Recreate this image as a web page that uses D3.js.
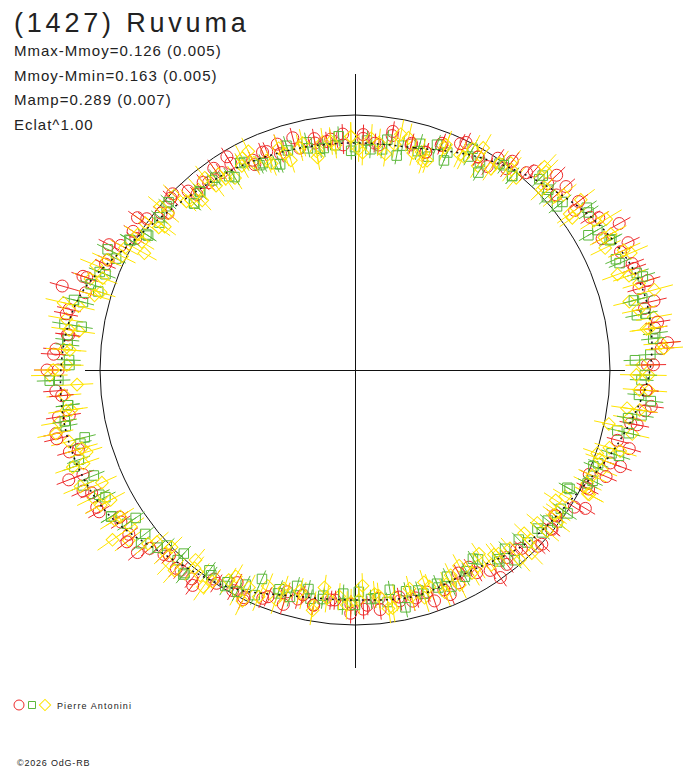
<!DOCTYPE html>
<html>
<head>
<meta charset="utf-8">
<script src="https://cdn.jsdelivr.net/npm/d3@7"></script>
<style>
  body { margin: 0; background: #fff; }
  text { font-family: "Liberation Sans", Arial, sans-serif; fill: #222; }
</style>
</head>
<body>
<svg id="chart" width="688" height="768"></svg>
<script>
// phase in degrees (0 = top, clockwise), magnitude relative to the mean
var fitPhase = [0, 15, 30, 45, 60, 75, 90, 105, 120, 135, 150, 165,
                180, 195, 210, 225, 240, 255, 270, 285, 300, 315, 330, 345]
var fitMag = [0.126, 0.112, 0.039, -0.038, -0.121, -0.173, -0.158, -0.078, 0.009, 0.048, 0.103, 0.093,
              0.112, 0.093, 0.017, -0.038, -0.125, -0.158, -0.155, -0.121, -0.008, 0.061, 0.093, 0.117]

// first night
var redPhase = [2, 6, 9, 14, 18, 21, 26, 30, 34, 37, 42, 46, 49, 54, 58, 61, 66, 70, 74, 77,
                82, 86, 89, 94, 98, 101, 106, 110, 114, 117, 122, 126, 129, 134, 138, 141, 146, 150, 154, 157,
                162, 166, 169, 174, 178, 181, 186, 190, 194, 197, 202, 206, 209, 214, 218, 221, 226, 230, 234, 237,
                242, 246, 249, 254, 258, 261, 266, 270, 274, 277, 282, 286, 289, 294, 298, 301, 306, 310, 314, 317,
                322, 326, 329, 334, 338, 341, 346, 350, 354, 357]
var redMag = [0.104, 0.130, 0.078, 0.103, 0.117, 0.053, 0.008, 0.039, -0.002, 0.013,
              -0.053, -0.054, -0.100, -0.068, -0.130, -0.184, -0.142, -0.166, -0.160, -0.201,
              -0.186, -0.202, -0.149, -0.147, -0.151, -0.105, -0.122, -0.069, -0.006, -0.018,
              -0.016, 0.035, 0.012, 0.005, 0.059, 0.060, 0.058, 0.123, 0.080, 0.048,
              0.095, 0.074, 0.088, 0.114, 0.069, 0.091, 0.106, 0.071, 0.084, 0.103,
              0.038, -0.003, 0.012, 0.012, -0.042, -0.043, -0.044, -0.117, -0.100, -0.098,
              -0.149, -0.168, -0.145, -0.166, -0.197, -0.137, -0.176, -0.165, -0.176, -0.139,
              -0.148, -0.103, -0.131, -0.063, -0.043, -0.003, -0.010, 0.048, 0.006, 0.045,
              0.076, 0.074, 0.061, 0.119, 0.086, 0.071, 0.118, 0.110, 0.102, 0.134]

var greenPhase = [0, 3, 7, 12, 16, 19, 23, 28, 31, 35, 39, 44, 47, 51, 55, 60, 63, 67, 71, 76,
                  79, 83, 87, 92, 95, 99, 103, 108, 111, 115, 119, 124, 127, 131, 135, 140, 143, 147, 151, 156,
                  159, 163, 167, 172, 175, 179, 183, 188, 191, 195, 199, 204, 207, 211, 215, 220, 223, 227, 231, 236,
                  239, 243, 247, 252, 255, 259, 263, 268, 271, 275, 279, 284, 287, 291, 295, 300, 303, 307, 311, 316,
                  319, 323, 327, 332, 335, 339, 343, 348, 351, 355]
var greenMag = [0.146, 0.113, 0.149, 0.115, 0.087, 0.133, 0.083, 0.019, 0.054, 0.013,
                0.023, -0.043, -0.039, -0.021, -0.113, -0.101, -0.131, -0.115, -0.169, -0.162,
                -0.129, -0.185, -0.161, -0.127, -0.121, -0.140, -0.059, -0.061, -0.023, -0.030,
                0.053, 0.029, 0.007, 0.058, 0.048, 0.096, 0.067, 0.132, 0.112, 0.079,
                0.117, 0.094, 0.126, 0.092, 0.116, 0.151, 0.088, 0.122, 0.098, 0.143,
                0.083, 0.037, 0.062, 0.013, 0.019, -0.050, -0.021, -0.010, -0.083, -0.082,
                -0.119, -0.102, -0.160, -0.141, -0.118, -0.157, -0.136, -0.165, -0.123, -0.134,
                -0.155, -0.103, -0.056, -0.076, -0.036, -0.018, 0.036, 0.044, 0.023, 0.103,
                0.080, 0.078, 0.107, 0.086, 0.131, 0.157, 0.114, 0.099, 0.141, 0.133]

var yellowPhase = [1, 4, 8, 10, 13, 17, 19, 22, 26, 28, 31, 35, 37, 40, 44, 46, 49, 53, 55, 58,
                   62, 64, 67, 71, 73, 76, 80, 82, 85, 89, 91, 94, 98, 100, 103, 107, 109, 112, 116, 118,
                   121, 125, 127, 130, 134, 136, 139, 143, 145, 148, 152, 154, 157, 161, 163, 166, 170, 172, 175, 179,
                   181, 184, 188, 190, 193, 197, 199, 202, 206, 208, 211, 215, 217, 220, 224, 226, 229, 233, 235, 238,
                   242, 244, 247, 251, 253, 256, 260, 262, 265, 269, 271, 274, 278, 280, 283, 287, 289, 292, 296, 298,
                   301, 305, 307, 310, 314, 316, 319, 323, 325, 328, 332, 334, 337, 341, 343, 346, 350, 352, 355, 359]
var yellowMag = [0.155, 0.102, 0.169, 0.117, 0.074, 0.122, 0.153, 0.068, 0.068, 0.019,
                 0.074, 0.013, -0.017, 0.018, -0.083, -0.034, -0.040, -0.112, -0.043, -0.110,
                 -0.138, -0.095, -0.175, -0.139, -0.166, -0.112, -0.188, -0.156, -0.203, -0.129,
                 -0.153, -0.157, -0.081, -0.095, -0.119, -0.046, -0.005, -0.047, -0.014, -0.043,
                 0.042, 0.032, 0.007, 0.075, 0.045, 0.002, 0.083, 0.107, 0.075, 0.106,
                 0.152, 0.070, 0.098, 0.116, 0.074, 0.134, 0.109, 0.062, 0.136, 0.111,
                 0.101, 0.127, 0.162, 0.071, 0.107, 0.083, 0.053, 0.098, 0.057, 0.017,
                 0.043, -0.041, -0.009, 0.030, -0.054, -0.034, -0.031, -0.114, -0.076, -0.113,
                 -0.089, -0.144, -0.170, -0.129, -0.104, -0.158, -0.177, -0.127, -0.146, -0.195,
                 -0.133, -0.146, -0.097, -0.152, -0.116, -0.046, -0.101, -0.098, -0.018, -0.023,
                 0.027, -0.005, 0.074, 0.048, 0.016, 0.083, 0.070, 0.108, 0.072, 0.129,
                 0.066, 0.109, 0.124, 0.091, 0.164, 0.118, 0.150, 0.111, 0.133, 0.096]

// second night
var redPhase2 = [2, 5, 9, 14, 18, 21, 25, 30, 33, 37, 41, 46, 49, 53, 57, 62, 65, 69, 73, 78,
                 81, 85, 89, 94, 97, 101, 105, 110, 113, 117, 121, 126, 129, 133, 137, 142, 145, 149, 153, 158,
                 161, 165, 169, 174, 177, 181, 185, 190, 193, 197, 201, 206, 209, 213, 217, 222, 225, 229, 233, 238,
                 241, 245, 249, 254, 257, 261, 265, 270, 273, 277, 281, 286, 289, 293, 297, 302, 305, 309, 313, 318,
                 321, 325, 329, 334, 337, 341, 345, 350, 353, 357]
var redMag2 = [0.086, 0.123, 0.059, 0.095, 0.117, 0.063, 0.023, 0.039, 0.054, -0.027,
               -0.027, -0.103, -0.049, -0.101, -0.103, -0.101, -0.181, -0.165, -0.199, -0.162,
               -0.199, -0.225, -0.171, -0.147, -0.171, -0.130, -0.069, -0.111, -0.073, -0.030,
               -0.057, 0.029, 0.007, -0.002, 0.048, 0.036, 0.007, 0.082, 0.122, 0.079,
               0.047, 0.084, 0.106, 0.062, 0.086, 0.051, 0.108, 0.072, 0.108, 0.043,
               0.053, 0.007, 0.052, 0.003, -0.061, -0.050, -0.031, -0.070, -0.123, -0.092,
               -0.149, -0.142, -0.200, -0.131, -0.198, -0.177, -0.156, -0.205, -0.183, -0.134,
               -0.155, -0.193, -0.116, -0.066, -0.086, -0.028, -0.044, 0.024, 0.013, 0.083,
               0.060, 0.038, 0.027, 0.096, 0.081, 0.117, 0.064, 0.089, 0.111, 0.083]

var greenPhase2 = [4, 8, 11, 16, 20, 23, 28, 32, 36, 39, 44, 48, 51, 56, 60, 63, 68, 72, 76, 79,
                   84, 88, 91, 96, 100, 103, 108, 112, 116, 119, 124, 128, 131, 136, 140, 143, 148, 152, 156, 159,
                   164, 168, 171, 176, 180, 183, 188, 192, 196, 199, 204, 208, 211, 216, 220, 223, 228, 232, 236, 239,
                   244, 248, 251, 256, 260, 263, 268, 272, 276, 279, 284, 288, 291, 296, 300, 303, 308, 312, 316, 319,
                   324, 328, 331, 336, 340, 343, 348, 352, 356, 359]
var greenMag2 = [0.154, 0.100, 0.168, 0.123, 0.067, 0.123, 0.058, 0.099, 0.008, 0.023,
                 -0.063, -0.014, -0.050, -0.108, -0.060, -0.124, -0.122, -0.186, -0.130, -0.161,
                 -0.176, -0.102, -0.139, -0.167, -0.091, -0.105, -0.092, -0.009, -0.016, 0.042,
                 -0.006, 0.045, 0.032, 0.085, 0.029, 0.080, 0.148, 0.093, 0.130, 0.098,
                 0.115, 0.054, 0.148, 0.114, 0.089, 0.141, 0.106, 0.141, 0.084, 0.103,
                 0.118, 0.017, 0.032, 0.032, -0.042, 0.017, -0.044, -0.047, -0.040, -0.118,
                 -0.119, -0.108, -0.165, -0.096, -0.157, -0.137, -0.196, -0.125, -0.136, -0.089,
                 -0.138, -0.093, -0.051, -0.083, -0.023, 0.027, 0.030, 0.018, 0.106, 0.085,
                 0.076, 0.124, 0.081, 0.129, 0.166, 0.091, 0.128, 0.140, 0.092, 0.164]

var yellowPhase2 = [359, 2, 6, 11, 15, 18, 22, 27, 30, 34, 38, 43, 46, 50, 54, 59, 62, 66, 70, 75,
                    78, 82, 86, 91, 94, 98, 102, 107, 110, 114, 118, 123, 126, 130, 134, 139, 142, 146, 150, 155,
                    158, 162, 166, 171, 174, 178, 182, 187, 190, 194, 198, 203, 206, 210, 214, 219, 222, 226, 230, 235,
                    238, 242, 246, 251, 254, 258, 262, 267, 270, 274, 278, 283, 286, 290, 294, 299, 302, 306, 310, 315,
                    318, 322, 326, 331, 334, 338, 342, 347, 350, 354]
var yellowMag2 = [0.096, 0.173, 0.119, 0.065, 0.137, 0.163, 0.053, 0.069, -0.006, 0.053,
                  0.003, -0.093, -0.019, -0.071, -0.043, -0.151, -0.111, -0.155, -0.099, -0.212,
                  -0.139, -0.165, -0.211, -0.107, -0.121, -0.130, -0.019, -0.091, -0.023, -0.020,
                  -0.037, 0.069, 0.037, 0.018, 0.088, 0.016, 0.097, 0.152, 0.092, 0.129,
                  0.067, 0.144, 0.096, 0.062, 0.126, 0.181, 0.088, 0.112, 0.048, 0.123,
                  0.113, 0.037, -0.008, 0.073, -0.001, 0.000, -0.061, 0.000, -0.063, -0.162,
                  -0.089, -0.132, -0.090, -0.171, -0.118, -0.197, -0.146, -0.095, -0.183, -0.124,
                  -0.135, -0.173, -0.066, -0.056, -0.066, 0.062, -0.004, 0.054, 0.003, 0.073,
                  0.120, 0.048, 0.107, 0.096, 0.051, 0.147, 0.124, 0.099, 0.181, 0.113]

var infoLines = ["Mmax-Mmoy=0.126 (0.005)", "Mmoy-Mmin=0.163 (0.005)", "Mamp=0.289 (0.007)", "Eclat^1.00"]

var red = "#ee2b2b", green = "#5cb83c", yellow = "#ffe400"
var layers = [
    { phase: redPhase, mag: redMag, err: 0.045, color: red, shape: "circle" },
    { phase: greenPhase, mag: greenMag, err: 0.045, color: green, shape: "square" },
    { phase: yellowPhase, mag: yellowMag, err: 0.065, color: yellow, shape: "diamond" },
    { phase: redPhase2, mag: redMag2, err: 0.045, color: red, shape: "circle" },
    { phase: greenPhase2, mag: greenMag2, err: 0.045, color: green, shape: "square" },
    { phase: yellowPhase2, mag: yellowMag2, err: 0.065, color: yellow, shape: "diamond" }
]

var svg = d3.select("#chart")
var cx = 355, cy = 370, R0 = 255

var angle = d3.scaleLinear().domain([0, 360]).range([0, 2 * Math.PI])
var radius = d3.scaleLinear().domain([0, 1]).range([0, R0])
function flux(m) { return Math.pow(10, -0.4 * m) }
function px(p, m) { return cx + radius(flux(m)) * Math.sin(angle(p)) }
function py(p, m) { return cy - radius(flux(m)) * Math.cos(angle(p)) }

// reference circle and axes
svg.append("circle")
    .attr("cx", cx).attr("cy", cy).attr("r", radius(1))
    .attr("fill", "none").attr("stroke", "#111").attr("stroke-width", 1)
svg.append("line").attr("x1", 85).attr("x2", 625).attr("y1", cy + 0.5).attr("y2", cy + 0.5)
    .attr("stroke", "#111").attr("stroke-width", 1)
svg.append("line").attr("x1", cx + 0.5).attr("x2", cx + 0.5).attr("y1", 74).attr("y2", 668)
    .attr("stroke", "#111").attr("stroke-width", 1)

var symbolFor = {
    circle: d3.symbol().type(d3.symbolCircle).size(Math.PI * 6 * 6)(),
    square: d3.symbol().type(d3.symbolSquare).size(9.5 * 9.5)(),
    diamond: d3.symbol().type(d3.symbolSquare).size(9 * 9)()
}

layers.forEach(function(s) {
    var data = s.phase.map(function(p, i) { return { p: p, m: s.mag[i] } })
    var g = svg.append("g")

    g.selectAll("line")
        .data(data)
        .enter()
        .append("line")
        .attr("x1", function(d) { return px(d.p, d.m - s.err) })
        .attr("y1", function(d) { return py(d.p, d.m - s.err) })
        .attr("x2", function(d) { return px(d.p, d.m + s.err) })
        .attr("y2", function(d) { return py(d.p, d.m + s.err) })
        .attr("stroke", s.color)
        .attr("stroke-width", 1)

    g.selectAll("path")
        .data(data)
        .enter()
        .append("path")
        .attr("d", symbolFor[s.shape])
        .attr("transform", function(d) {
            return "translate(" + px(d.p, d.m) + "," + py(d.p, d.m) + ")" +
                (s.shape === "diamond" ? " rotate(45)" : "")
        })
        .attr("fill", "none")
        .attr("stroke", s.color)
        .attr("stroke-width", 1)
})

// mean fitted curve
var fitData = fitPhase.map(function(p, i) { return { p: p, m: fitMag[i] } })
var fitLine = d3.lineRadial()
    .angle(function(d) { return angle(d.p) })
    .radius(function(d) { return radius(flux(d.m)) })
    .curve(d3.curveCardinalClosed)
svg.append("path")
    .datum(fitData)
    .attr("transform", "translate(" + cx + "," + cy + ")")
    .attr("d", fitLine)
    .attr("fill", "none")
    .attr("stroke", "#111")
    .attr("stroke-width", 1.5)
    .attr("stroke-dasharray", "2,4")

// texts
svg.append("text")
    .attr("x", 14).attr("y", 32)
    .style("font-size", "27px").style("letter-spacing", "3.8px")
    .text("(1427) Ruvuma")

svg.selectAll(".info")
    .data(infoLines)
    .enter()
    .append("text")
    .attr("class", "info")
    .attr("x", 14)
    .attr("y", function(d, i) { return 56 + i * 24.7 })
    .style("font-size", "15px").style("letter-spacing", "1px")
    .text(function(d) { return d })

// legend
var legend = svg.append("g").attr("transform", "translate(0,705)")
layers.slice(0, 3).forEach(function(s, i) {
    legend.append("path")
        .attr("d", s.shape === "circle" ? d3.symbol().type(d3.symbolCircle).size(Math.PI * 25)()
            : d3.symbol().type(d3.symbolSquare).size(s.shape === "square" ? 49 : 64)())
        .attr("transform", "translate(" + (19 + i * 13) + ",0)" + (s.shape === "diamond" ? " rotate(45)" : ""))
        .attr("fill", "none")
        .attr("stroke", s.color)
        .attr("stroke-width", 1)
})
legend.append("text")
    .attr("x", 57).attr("y", 3.5)
    .style("font-size", "9px").style("letter-spacing", "1.1px")
    .text("Pierre Antonini")

svg.append("text")
    .attr("x", 17).attr("y", 766)
    .style("font-size", "9px").style("letter-spacing", "0.8px")
    .text("©2026 OdG-RB")
</script>
</body>
</html>
